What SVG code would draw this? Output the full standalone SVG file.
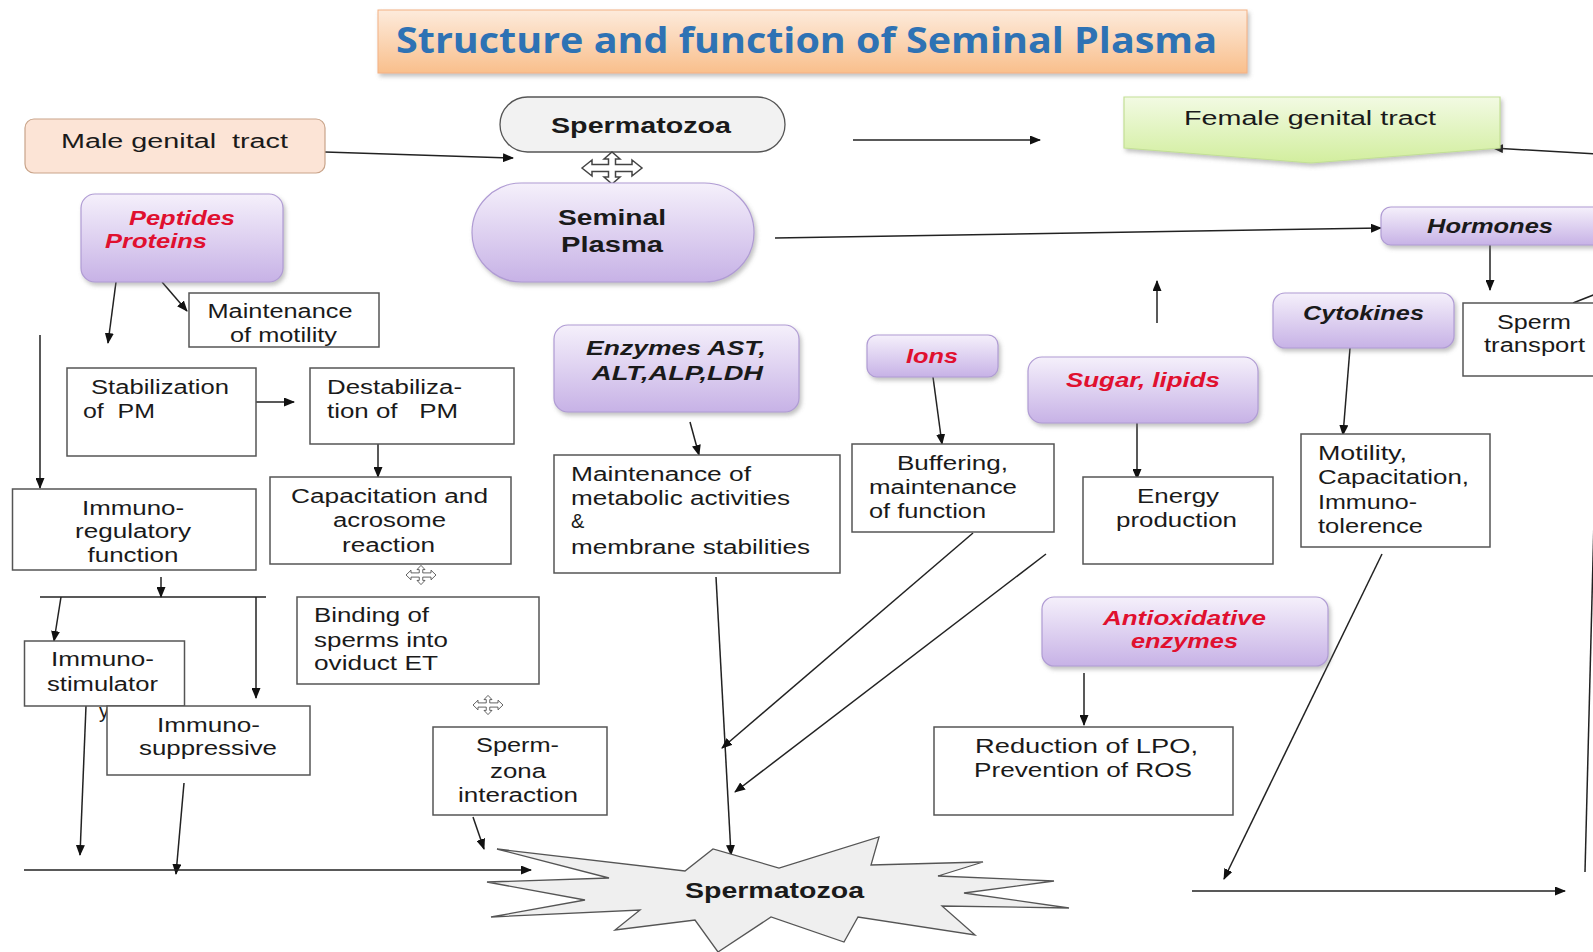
<svg xmlns="http://www.w3.org/2000/svg" width="1593" height="952" viewBox="0 0 1593 952">
<defs>
<linearGradient id="gPurple" x1="0" y1="0" x2="0" y2="1"><stop offset="0" stop-color="#f5f0fb"/><stop offset="1" stop-color="#c7b2e6"/></linearGradient>
<linearGradient id="gTitle" x1="0" y1="0" x2="0" y2="1"><stop offset="0" stop-color="#fdebdc"/><stop offset="1" stop-color="#f9bf8c"/></linearGradient>
<linearGradient id="gGreen" x1="0" y1="0" x2="0" y2="1"><stop offset="0" stop-color="#f2fae3"/><stop offset="1" stop-color="#d2ee9e"/></linearGradient>
<filter id="shadow" x="-10%" y="-20%" width="130%" height="150%"><feDropShadow dx="2" dy="3" stdDeviation="2" flood-color="#777" flood-opacity="0.45"/></filter>
<marker id="arr" markerUnits="userSpaceOnUse" markerWidth="11" markerHeight="9" refX="10" refY="4.5" orient="auto"><path d="M0,0 L11,4.5 L0,9 z" fill="#111"/></marker>
<path id="cross" d="M-30,0 L-20,-8 L-20,-3.5 L-3.5,-3.5 L-3.5,-9 L-8,-9 L0,-16 L8,-9 L3.5,-9 L3.5,-3.5 L20,-3.5 L20,-8 L30,0 L20,8 L20,3.5 L3.5,3.5 L3.5,9 L8,9 L0,16 L-8,9 L-3.5,9 L-3.5,3.5 L-20,3.5 L-20,8 Z"/>
</defs>
<style>
.box{fill:#fff;stroke:#555;stroke-width:1.5}
.pur{fill:url(#gPurple);stroke:#b09cd4;stroke-width:1.2;filter:url(#shadow)}
.t{font-family:"Liberation Sans",Arial,sans-serif;font-size:20px;fill:#1a1a1a;white-space:pre}
.b{font-weight:bold;font-size:22px}
.red{font-weight:bold;font-style:italic;fill:#e0102f}
.bi{font-weight:bold;font-style:italic}
.m{text-anchor:middle}
.ln{fill:none;stroke:#222;stroke-width:1.5}
.a{marker-end:url(#arr)}
.cr{fill:#fff;stroke:#444;stroke-width:1.5}
</style>
<rect width="1593" height="952" fill="#fff"/>

<g id="title">
<rect x="378" y="10" width="869" height="63" fill="url(#gTitle)" stroke="#f4b183" stroke-width="1" filter="url(#shadow)"/>
<text x="806.5" y="53" text-anchor="middle" font-family="'Open Sans','Noto Sans',sans-serif" font-weight="bold" font-size="35" fill="#2e72b4" textLength="821" lengthAdjust="spacingAndGlyphs">Structure and function of Seminal Plasma</text>
</g>

<g id="connectors">
<line class="ln a" x1="325" y1="152" x2="513" y2="158"/>
<line class="ln a" x1="853" y1="140" x2="1040" y2="140"/>
<line class="ln a" x1="775" y1="238" x2="1381" y2="228"/>
<line class="ln a" x1="162" y1="282" x2="187" y2="311"/>
<line class="ln a" x1="116" y1="282" x2="108" y2="343"/>
<line class="ln a" x1="40" y1="335" x2="40" y2="488"/>
<line class="ln a" x1="256" y1="402" x2="294" y2="402"/>
<line class="ln a" x1="378" y1="436" x2="378" y2="477"/>
<line class="ln a" x1="161" y1="577" x2="161" y2="597"/>
<line class="ln" x1="40" y1="597" x2="266" y2="597"/>
<line class="ln a" x1="61" y1="597" x2="54" y2="641"/>
<line class="ln a" x1="256" y1="597" x2="256" y2="698"/>
<line class="ln a" x1="86" y1="706" x2="80" y2="855"/>
<line class="ln a" x1="184" y1="783" x2="176" y2="874"/>
<line class="ln a" x1="24" y1="870" x2="531" y2="870"/>
<line class="ln a" x1="473" y1="817" x2="484" y2="849"/>
<line class="ln a" x1="716" y1="577" x2="731" y2="855"/>
<line class="ln a" x1="690" y1="422" x2="699" y2="455"/>
<line class="ln a" x1="933" y1="377" x2="942" y2="444"/>
<line class="ln a" x1="973" y1="533" x2="722" y2="748"/>
<line class="ln a" x1="1046" y1="554" x2="735" y2="792"/>
<line class="ln a" x1="1137" y1="423" x2="1137" y2="479"/>
<line class="ln a" x1="1157" y1="323" x2="1157" y2="281"/>
<line class="ln a" x1="1084" y1="673" x2="1084" y2="725"/>
<line class="ln a" x1="1382" y1="554" x2="1224" y2="879"/>
<line class="ln a" x1="1192" y1="891" x2="1565" y2="891"/>
<line class="ln" x1="1585" y1="872" x2="1594" y2="520"/>
<line class="ln a" x1="1596" y1="154" x2="1493" y2="148"/>
<line class="ln a" x1="1490" y1="245" x2="1490" y2="290"/>
<line class="ln" x1="1573" y1="303" x2="1596" y2="294"/>
<line class="ln a" x1="1350" y1="348" x2="1343" y2="435"/>
</g>

<g id="male">
<rect x="25" y="119" width="300" height="54" rx="9" fill="#fce4d6" stroke="#c9a48a" stroke-width="1.2"/>
<text class="t m" x="174.5" y="148" font-size="21" textLength="227" lengthAdjust="spacingAndGlyphs">Male genital  tract</text>
</g>
<g id="spermatozoa-top">
<rect x="500" y="97" width="285" height="55" rx="27.5" fill="#f2f2f2" stroke="#555" stroke-width="1.3"/>
<text class="t b m" x="641" y="133" textLength="180" lengthAdjust="spacingAndGlyphs">Spermatozoa</text>
</g>
<g id="exchange1"><use href="#cross" class="cr" transform="translate(612,168)"/></g>
<g id="seminal">
<rect x="472" y="183" width="282" height="99" rx="49.5" class="pur"/>
<text class="t b m" x="612" y="225" textLength="108" lengthAdjust="spacingAndGlyphs">Seminal</text>
<text class="t b m" x="612" y="252" textLength="102" lengthAdjust="spacingAndGlyphs">Plasma</text>
</g>
<g id="female">
<polygon points="1124,97 1500,97 1500,148 1311,163 1124,148" fill="url(#gGreen)" stroke="#c3e096" stroke-width="1.2" filter="url(#shadow)"/>
<text class="t m" x="1310" y="125" font-size="21" textLength="252" lengthAdjust="spacingAndGlyphs">Female genital tract</text>
</g>
<g id="peptides">
<rect x="81" y="194" width="202" height="88" rx="14" class="pur"/>
<text class="t red" x="129" y="225" textLength="106" lengthAdjust="spacingAndGlyphs">Peptides</text>
<text class="t red" x="105" y="248" textLength="102" lengthAdjust="spacingAndGlyphs">Proteins</text>
</g>
<g id="motility-maint">
<rect x="189" y="293" width="190" height="54" class="box"/>
<text class="t m" x="280" y="318" textLength="145" lengthAdjust="spacingAndGlyphs">Maintenance</text>
<text class="t m" x="283.5" y="342" textLength="107" lengthAdjust="spacingAndGlyphs">of motility</text>
</g>
<g id="stabilization">
<rect x="67" y="368" width="189" height="88" class="box"/>
<text class="t" x="91" y="394" textLength="138" lengthAdjust="spacingAndGlyphs">Stabilization</text>
<text class="t" x="83" y="418" textLength="72" lengthAdjust="spacingAndGlyphs">of  PM</text>
</g>
<g id="destabilization">
<rect x="310" y="368" width="204" height="76" class="box"/>
<text class="t" x="327" y="394" textLength="135" lengthAdjust="spacingAndGlyphs">Destabiliza-</text>
<text class="t" x="327" y="418" textLength="131" lengthAdjust="spacingAndGlyphs">tion of   PM</text>
</g>
<g id="capacitation">
<rect x="270" y="477" width="241" height="87" class="box"/>
<text class="t m" x="389.5" y="503" textLength="197" lengthAdjust="spacingAndGlyphs">Capacitation and</text>
<text class="t m" x="389.5" y="527" textLength="113" lengthAdjust="spacingAndGlyphs">acrosome</text>
<text class="t m" x="388.5" y="552" textLength="93" lengthAdjust="spacingAndGlyphs">reaction</text>
</g>
<g id="exchange2"><use href="#cross" class="cr" transform="translate(421,575) scale(0.5,0.6)" stroke-width="2.5"/></g>
<g id="immunoregulatory">
<rect x="12.5" y="489" width="243.5" height="81" class="box"/>
<text class="t m" x="133" y="515" textLength="102" lengthAdjust="spacingAndGlyphs">Immuno-</text>
<text class="t m" x="133" y="538" textLength="116" lengthAdjust="spacingAndGlyphs">regulatory</text>
<text class="t m" x="133" y="562" textLength="91" lengthAdjust="spacingAndGlyphs">function</text>
</g>
<g id="immunostimulatory">
<rect x="24.5" y="641" width="160" height="65" class="box"/>
<text class="t m" x="102.5" y="666" textLength="103" lengthAdjust="spacingAndGlyphs">Immuno-</text>
<text class="t m" x="102.5" y="691" textLength="111" lengthAdjust="spacingAndGlyphs">stimulator</text>
<text class="t" x="99" y="718">y</text>
</g>
<g id="immunosuppressive">
<rect x="107" y="706" width="203" height="69" class="box"/>
<text class="t m" x="208.5" y="732" textLength="103" lengthAdjust="spacingAndGlyphs">Immuno-</text>
<text class="t m" x="208" y="755" textLength="138" lengthAdjust="spacingAndGlyphs">suppressive</text>
</g>
<g id="binding">
<rect x="297" y="597" width="242" height="87" class="box"/>
<text class="t" x="314" y="622" textLength="115" lengthAdjust="spacingAndGlyphs">Binding of</text>
<text class="t" x="314" y="647" textLength="134" lengthAdjust="spacingAndGlyphs">sperms into</text>
<text class="t" x="314" y="670" textLength="124" lengthAdjust="spacingAndGlyphs">oviduct ET</text>
</g>
<g id="exchange3"><use href="#cross" class="cr" transform="translate(488,705) scale(0.5,0.6)" stroke-width="2.5"/></g>
<g id="spermzona">
<rect x="433" y="727" width="174" height="88" class="box"/>
<text class="t m" x="517.5" y="752" textLength="83" lengthAdjust="spacingAndGlyphs">Sperm-</text>
<text class="t m" x="518" y="778" textLength="56" lengthAdjust="spacingAndGlyphs">zona</text>
<text class="t m" x="518" y="802" textLength="120" lengthAdjust="spacingAndGlyphs">interaction</text>
</g>
<g id="spermatozoa-burst">
<polygon points="497,849 685,871 713,849 779,868 879,837 871,865 983,862 938,876 1054,881 964,893 1069,908 942,906 975,935 858,917 844,942 771,917 718,952 695,920 615,930 640,910 491,917 585,900 487,882 609,878" fill="#efefef" stroke="#555" stroke-width="1.3"/>
<text class="t b m" x="774.5" y="898" textLength="179" lengthAdjust="spacingAndGlyphs">Spermatozoa</text>
</g>
<g id="enzymes">
<rect x="554" y="325" width="245" height="87" rx="14" class="pur"/>
<text class="t bi m" x="676" y="355" textLength="180" lengthAdjust="spacingAndGlyphs">Enzymes AST,</text>
<text class="t bi m" x="677.5" y="380" textLength="171" lengthAdjust="spacingAndGlyphs">ALT,ALP,LDH</text>
</g>
<g id="metabolic">
<rect x="554" y="455" width="286" height="118" class="box"/>
<text class="t" x="571" y="481" textLength="180" lengthAdjust="spacingAndGlyphs">Maintenance of</text>
<text class="t" x="571" y="505" textLength="219" lengthAdjust="spacingAndGlyphs">metabolic activities</text>
<text class="t" x="571" y="528">&amp;</text>
<text class="t" x="571" y="554" textLength="239" lengthAdjust="spacingAndGlyphs">membrane stabilities</text>
</g>
<g id="ions">
<rect x="867" y="335" width="131" height="42" rx="10" class="pur"/>
<text class="t red m" x="932" y="363" textLength="52" lengthAdjust="spacingAndGlyphs">Ions</text>
</g>
<g id="buffering">
<rect x="852" y="444" width="202" height="88" class="box"/>
<text class="t m" x="952.5" y="470" textLength="111" lengthAdjust="spacingAndGlyphs">Buffering,</text>
<text class="t" x="869" y="494" textLength="148" lengthAdjust="spacingAndGlyphs">maintenance</text>
<text class="t" x="869" y="518" textLength="117" lengthAdjust="spacingAndGlyphs">of function</text>
</g>
<g id="sugar">
<rect x="1028" y="357" width="230" height="66" rx="14" class="pur"/>
<text class="t red m" x="1143" y="387" textLength="154" lengthAdjust="spacingAndGlyphs">Sugar, lipids</text>
</g>
<g id="energy">
<rect x="1083" y="477" width="190" height="87" class="box"/>
<text class="t m" x="1178" y="503" textLength="82" lengthAdjust="spacingAndGlyphs">Energy</text>
<text class="t m" x="1176.5" y="527" textLength="121" lengthAdjust="spacingAndGlyphs">production</text>
</g>
<g id="cytokines">
<rect x="1273" y="293" width="181" height="55" rx="12" class="pur"/>
<text class="t bi m" x="1363.5" y="320" textLength="121" lengthAdjust="spacingAndGlyphs">Cytokines</text>
</g>
<g id="motility">
<rect x="1301" y="434" width="189" height="113" class="box"/>
<text class="t" x="1318" y="460" textLength="89" lengthAdjust="spacingAndGlyphs">Motility,</text>
<text class="t" x="1318" y="484" textLength="151" lengthAdjust="spacingAndGlyphs">Capacitation,</text>
<text class="t" x="1318" y="509" textLength="99" lengthAdjust="spacingAndGlyphs">Immuno-</text>
<text class="t" x="1318" y="533" textLength="105" lengthAdjust="spacingAndGlyphs">tolerence</text>
</g>
<g id="hormones">
<rect x="1381" y="207" width="240" height="38" rx="10" class="pur"/>
<text class="t bi m" x="1490" y="233" textLength="126" lengthAdjust="spacingAndGlyphs">Hormones</text>
</g>
<g id="spermtransport">
<rect x="1463" y="303" width="140" height="73" class="box"/>
<text class="t m" x="1534" y="329" textLength="74" lengthAdjust="spacingAndGlyphs">Sperm</text>
<text class="t m" x="1534.5" y="352" textLength="101" lengthAdjust="spacingAndGlyphs">transport</text>
</g>
<g id="antioxidative">
<rect x="1042" y="597" width="286" height="69" rx="12" class="pur"/>
<text class="t red m" x="1184.5" y="625" textLength="163" lengthAdjust="spacingAndGlyphs">Antioxidative</text>
<text class="t red m" x="1184.5" y="648" textLength="107" lengthAdjust="spacingAndGlyphs">enzymes</text>
</g>
<g id="reduction">
<rect x="934" y="727" width="299" height="88" class="box"/>
<text class="t m" x="1086.5" y="753" textLength="223" lengthAdjust="spacingAndGlyphs">Reduction of LPO,</text>
<text class="t m" x="1083" y="777" textLength="218" lengthAdjust="spacingAndGlyphs">Prevention of ROS</text>
</g>
</svg>
